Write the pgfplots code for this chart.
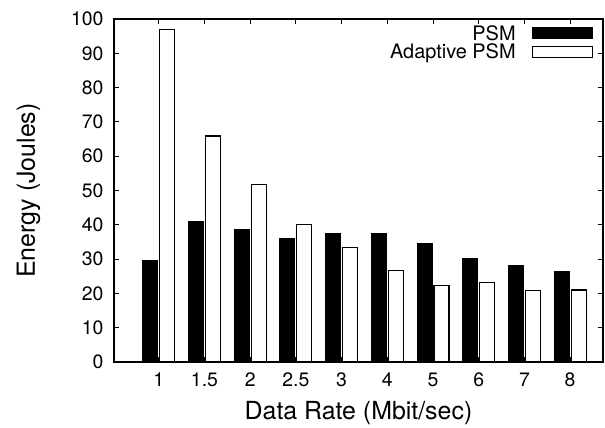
\documentclass[border=0pt]{standalone}
\usepackage{fontspec}
\setmainfont{TeX Gyre Heros}
\usepackage{pgfplots}
\pgfplotsset{compat=1.18}
\begin{document}
\begin{tikzpicture}[x=1bp,y=1bp]
\path[use as bounding box] (0,0) rectangle (605,427);
\begin{axis}[
  at={(114bp,65bp)}, anchor=south west,
  scale only axis,
  width=489bp, height=343bp,
  ybar, bar width=15bp,
  xmin=-0.98, xmax=9.72,
  ymin=0, ymax=100,
  xtick=data,
  xticklabels={1,1.5,2,2.5,3,4,5,6,7,8},
  ytick={0,10,...,100},
  tick align=inside,
  major tick length=5bp,
  axis line style={line width=1.2bp},
  every tick/.style={line width=1bp, black},
  /pgf/number format/assume math mode=true,
  tick label style={font=\fontsize{19.5}{22}\selectfont},
  xticklabel style={yshift=-7bp},
  yticklabel style={xshift=-7bp},
  xlabel={Data Rate (Mbit/sec)},
  ylabel={Energy (Joules)},
  every axis x label/.style={at={(axis description cs:0.5,-0.15)}, anchor=center, font=\fontsize{25}{30}\selectfont},
  every axis y label/.style={at={(axis description cs:-0.175,0.5)}, anchor=center, rotate=90, font=\fontsize{25}{30}\selectfont},
  legend style={at={(axis description cs:1,1)}, anchor=north east, xshift=-10bp, yshift=-4bp, draw=none, fill=none,
    font=\fontsize{20}{23}\selectfont, row sep=-1.5bp, inner sep=0pt},
  legend cell align=right,
  legend plot pos=right,
  legend image code/.code={\path (0bp,0bp); \draw[#1, line width=1.2bp] (14bp,-5.5bp) rectangle (74bp,5.5bp);},
]
\addplot[fill=black, draw=black, line width=1bp] coordinates {
(0,29.5) (1,40.9) (2,38.5) (3,36.1) (4,37.4) (5,37.4) (6,34.5) (7,30.1) (8,28.1) (9,26.5)};
\addlegendentry{PSM}
\addplot[fill=white, draw=black, line width=1.2bp] coordinates {
(0,96.9) (1,65.9) (2,51.7) (3,40.0) (4,33.4) (5,26.6) (6,22.3) (7,23.2) (8,20.9) (9,21.0)};
\addlegendentry{Adaptive PSM}
\end{axis}
\end{tikzpicture}
\end{document}
